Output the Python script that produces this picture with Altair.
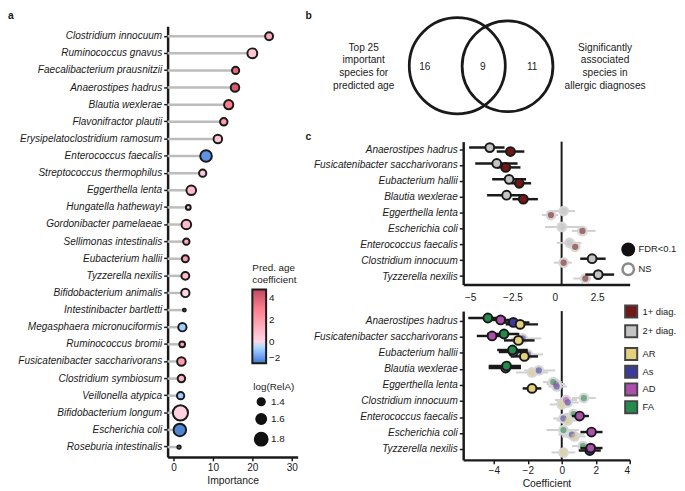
import altair as alt
import pandas as pd
import math

FONT = "Liberation Sans"
INK = "#1a1a1a"

# ---------------- panel a ----------------
a_species = [
    "Clostridium innocuum", "Ruminococcus gnavus", "Faecalibacterium prausnitzii",
    "Anaerostipes hadrus", "Blautia wexlerae", "Flavonifractor plautii",
    "Erysipelatoclostridium ramosum", "Enterococcus faecalis", "Streptococcus thermophilus",
    "Eggerthella lenta", "Hungatella hathewayi", "Gordonibacter pamelaeae",
    "Sellimonas intestinalis", "Eubacterium hallii", "Tyzzerella nexilis",
    "Bifidobacterium animalis", "Intestinibacter bartletti", "Megasphaera micronuciformis",
    "Ruminococcus bromii", "Fusicatenibacter saccharivorans", "Clostridium symbiosum",
    "Veillonella atypica", "Bifidobacterium longum", "Escherichia coli", "Roseburia intestinalis",
]
a_importance = [24.25, 20.0, 15.75, 15.6, 14.0, 12.75, 11.25, 8.25, 7.4, 4.5, 3.75, 3.25,
                3.25, 3.0, 3.0, 3.0, 2.75, 2.25, 2.2, 2.0, 2.0, 1.8, 1.75, 1.6, 1.4]
a_coef = [1.5, 0.6, 3.8, 4.2, 3.0, 2.0, 0.6, -1.6, 0.5, 1.0, 0.9, 1.0,
          1.4, 1.9, 0.9, 0.0, 0.5, -0.7, 1.8, 2.0, 1.1, -0.7, 0.15, -1.8, 1.3]
a_logrela = [1.45, 1.6, 1.4, 1.5, 1.55, 1.42, 1.5, 1.72, 1.4, 1.58, 1.2, 1.58,
             1.33, 1.38, 1.45, 1.48, 1.05, 1.48, 1.28, 1.5, 1.42, 1.4, 1.95, 1.78, 1.08]

# ---------------- panel b ----------------
venn_left_text = ["Top 25", "important", "species for", "predicted age"]
venn_right_text = ["Significantly", "associated", "species in", "allergic diagnoses"]
venn_counts = ["16", "9", "11"]

# ---------------- panel c ----------------
c_top_species = ["Anaerostipes hadrus", "Fusicatenibacter saccharivorans", "Eubacterium hallii",
                 "Blautia wexlerae", "Eggerthella lenta", "Escherichia coli",
                 "Enterococcus faecalis", "Clostridium innocuum", "Tyzzerella nexilis"]
diag1_coef = [-2.62, -2.9, -2.1, -1.86, -0.23, 1.63, 1.2, 0.52, 1.8]
diag1_lo = [-3.43, -3.43, -2.56, -2.5, -0.76, 1.0, 0.78, -0.06, 1.1]
diag1_hi = [-1.8, -2.03, -1.4, -1.0, 0.2, 2.4, 1.5, 1.0, 2.15]
diag1_sig = [1, 1, 1, 1, 0, 0, 0, 0, 0]
diag2_coef = [-3.84, -3.43, -2.7, -2.85, 0.52, 0.41, 0.87, 2.2, 2.56]
diag2_lo = [-5.06, -4.7, -3.7, -4.0, -0.2, -0.58, 0.12, 1.5, 1.8]
diag2_hi = [-2.97, -2.2, -1.7, -1.9, 1.2, 1.57, 1.57, 3.0, 3.5]
diag2_sig = [1, 1, 1, 1, 0, 0, 0, 1, 1]
top_ref_line = 0.4

c_bot_species = ["Anaerostipes hadrus", "Fusicatenibacter saccharivorans", "Eubacterium hallii",
                 "Blautia wexlerae", "Eggerthella lenta", "Clostridium innocuum",
                 "Enterococcus faecalis", "Escherichia coli", "Tyzzerella nexilis"]
ar_coef = [-2.45, -2.55, -2.2, -1.75, -1.75, 0.0, 0.35, 0.75, 0.1]
ar_lo = [-3.3, -3.4, -3.0, -2.7, -2.3, -0.7, -0.3, 0.0, -0.6]
ar_hi = [-1.4, -1.6, -1.4, -0.8, -1.2, 0.6, 1.0, 1.4, 0.8]
ar_sig = [1, 1, 1, 0, 1, 0, 0, 0, 0]
as_coef = [-2.85, -2.3, -2.0, -1.35, -0.3, 0.35, 0.1, 0.6, 1.65]
as_lo = [-3.8, -3.0, -2.8, -2.2, -0.8, -0.3, -0.5, -0.2, 1.0]
as_hi = [-1.9, -1.2, -1.1, -0.4, 0.3, 1.0, 0.7, 1.3, 2.3]
as_sig = [1, 0, 0, 0, 0, 0, 0, 0, 1]
ad_coef = [-3.6, -4.1, -2.85, -3.3, -0.35, 0.25, 1.05, 1.75, 1.7]
ad_lo = [-4.5, -5.0, -3.7, -4.3, -0.9, -0.4, 0.6, 1.1, 1.1]
ad_hi = [-2.7, -3.2, -2.0, -2.4, 0.2, 0.9, 1.6, 2.4, 2.4]
ad_sig = [1, 1, 1, 1, 0, 0, 1, 1, 1]
fa_coef = [-4.35, -3.4, -2.9, -3.25, -0.5, 1.3, 0.7, 0.1, 1.25]
fa_lo = [-5.5, -4.4, -3.8, -4.3, -1.1, 0.6, 0.2, -0.9, 0.6]
fa_hi = [-3.3, -2.5, -2.0, -2.4, 0.0, 2.0, 1.3, 1.0, 2.0]
fa_sig = [1, 1, 1, 1, 0, 0, 0, 0, 0]

diag_names = ["1+ diag.", "2+ diag."]
diag_colors = ["#721818", "#c4c4c4"]
dx_names = ["AR", "As", "AD", "FA"]
dx_colors = ["#e4d07e", "#3a3b9c", "#ab50ad", "#258a4d"]
sig_names = ["FDR<0.1", "NS"]

IND = dict(color="independent", fill="independent", stroke="independent", size="independent")

# ======================= panel a =======================
dfa = pd.DataFrame({"species": a_species, "importance": a_importance,
                    "coef": a_coef, "logrela": a_logrela})

ysc_a = alt.Scale(domain=a_species, paddingInner=0, paddingOuter=0.076)
xsc_a = alt.Scale(domain=[-1.5, 31.5], nice=False, zero=False)

yax_common = dict(title=None, labelFont=FONT, labelFontStyle="italic", labelFontSize=10.2,
                  labelColor=INK, domainColor=INK, domainWidth=2.5, tickColor=INK,
                  tickWidth=1.5, tickSize=4, labelPadding=2, grid=False)
yax_a = alt.Axis(**yax_common)
xax_a = alt.Axis(values=[0, 10, 20, 30], title="Importance", labelFont=FONT, labelFontSize=10.2,
                 labelColor=INK, domainColor=INK, domainWidth=2.5, tickColor=INK, tickWidth=1.5,
                 tickSize=4, labelPadding=2, titleFont=FONT, titleFontSize=10.5,
                 titleFontWeight="normal", titleColor=INK, titlePadding=3, grid=False)

stems = alt.Chart(dfa).mark_rule(color="#bcbcbc", strokeWidth=2.5).encode(
    y=alt.Y("species:N", scale=ysc_a, axis=yax_a),
    x=alt.X("importance:Q", scale=xsc_a, axis=xax_a),
    x2=alt.datum(-1.5),
)
dots_a = alt.Chart(dfa).mark_circle(stroke=INK, strokeWidth=2, opacity=1).encode(
    y=alt.Y("species:N", scale=ysc_a, axis=yax_a),
    x=alt.X("importance:Q", scale=xsc_a, axis=xax_a),
    color=alt.Color("coef:Q",
                    scale=alt.Scale(domain=[-2, 0, 4.8], range=["#3f78c5", "#ffffff", "#c34a5f"]),
                    legend=alt.Legend(title=["Pred. age", "coefficient"], orient="none",
                                      legendX=86, legendY=240, values=[-2, 0, 2, 4],
                                      gradientLength=75, gradientThickness=14,
                                      gradientStrokeColor=INK, gradientStrokeWidth=2,
                                      titleFont=FONT, titleFontSize=10, titleFontWeight="normal",
                                      titleColor=INK, titlePadding=5, labelFont=FONT,
                                      labelFontSize=10, labelColor=INK, labelOffset=3)),
    size=alt.Size("logrela:Q",
                  scale=alt.Scale(type="pow", exponent=4, domain=[1.0, 2.0], range=[5, 265]),
                  legend=alt.Legend(title="log(RelA)", orient="none", legendX=87, legendY=361,
                                    values=[1.4, 1.6, 1.8], symbolFillColor="#111111",
                                    symbolStrokeColor="#111111", symbolStrokeWidth=2,
                                    titleFont=FONT, titleFontSize=10, titleFontWeight="normal",
                                    titleColor=INK, labelFont=FONT, labelFontSize=10,
                                    labelColor=INK, labelOffset=2, rowPadding=0)),
)
letter_a = alt.Chart(pd.DataFrame({"t": ["a"]})).mark_text(
    font=FONT, fontSize=10.5, fontWeight="bold", align="left", baseline="top", color=INK
).encode(text="t:N", x=alt.value(-162), y=alt.value(-15))

panel_a = alt.layer(stems, dots_a, letter_a).properties(width=132, height=437)

# ======================= panel b (Venn, drawn in figure units) =======================
venn_circles = pd.DataFrame({"cx": [457, 508], "cy": [63, 63.5], "r": [55, 52]})
venn_circles["area"] = [math.pi * r * r for r in venn_circles["r"]]
venn_text_rows = []
for i, t in enumerate(venn_left_text):
    venn_text_rows.append({"tx": 362, "ty": 45 + 12.7 * i, "t": t})
for i, t in enumerate(venn_right_text):
    venn_text_rows.append({"tx": 607, "ty": 45 + 12.7 * i, "t": t})
for t, x in zip(venn_counts, [424, 483, 533]):
    venn_text_rows.append({"tx": x, "ty": 64, "t": t})
venn_text = pd.DataFrame(venn_text_rows)

vx = alt.Scale(domain=[463, 632], nice=False, zero=False)
vy = alt.Scale(domain=[23, 129], nice=False, zero=False, reverse=True)

venn_c = alt.Chart(venn_circles).mark_point(shape="circle", filled=False, strokeWidth=2.8,
                                            color=INK, opacity=1).encode(
    x=alt.X("cx:Q", scale=vx, axis=None), y=alt.Y("cy:Q", scale=vy, axis=None),
    size=alt.Size("area:Q", scale=None),
)
venn_t = alt.Chart(venn_text).mark_text(font=FONT, fontSize=10.3, color=INK).encode(
    x=alt.X("tx:Q", scale=vx, axis=None), y=alt.Y("ty:Q", scale=vy, axis=None), text="t:N",
)
letter_b = alt.Chart(pd.DataFrame({"t": ["b"]})).mark_text(
    font=FONT, fontSize=10.5, fontWeight="bold", align="left", baseline="top", color=INK
).encode(text="t:N", x=alt.value(-160), y=alt.value(-15))
panel_b = alt.layer(venn_c, venn_t, letter_b).properties(width=169, height=106)


# ======================= panel c =======================
def make_df(species, names, coefs, los, his, sigs):
    rows = []
    for n, c, lo, hi, sg in zip(names, coefs, los, his, sigs):
        for i, sp in enumerate(species):
            rows.append({"species": sp, "series": n, "coef": c[i], "lo": lo[i], "hi": hi[i],
                         "sig": "yes" if sg[i] else "no"})
    return pd.DataFrame(rows)


def forest(df, species, draw_order, colors, offsets, ref_x, xdom, xax, height, pad_outer,
           letter, extra):
    ysc = alt.Scale(domain=species, paddingInner=0, paddingOuter=pad_outer)
    yax = alt.Axis(minExtent=160, **yax_common)
    xsc = alt.Scale(domain=xdom, nice=False, zero=False)
    Y = alt.Y("species:N", scale=ysc, axis=yax)

    def X(f):
        return alt.X(f, scale=xsc, axis=xax)

    layers = [alt.Chart(pd.DataFrame({"v": [ref_x]})).mark_rule(color=INK, strokeWidth=2)
              .encode(x=X("v:Q"))]
    ns_rules, ns_halo, ns_dots, sg_rules, sg_dots = [], [], [], [], []
    for s in draw_order:
        col, off = colors[s], offsets[s]
        base = alt.Chart(df).transform_filter(alt.datum.series == s)
        ns = base.transform_filter(alt.datum.sig == "no")
        sg = base.transform_filter(alt.datum.sig == "yes")
        ns_rules.append(ns.mark_rule(color="#d0d0d0", strokeWidth=2, yOffset=off)
                        .encode(y=Y, x=X("lo:Q"), x2="hi:Q"))
        ns_halo.append(ns.mark_circle(color="#d6d6d6", size=118, opacity=1, yOffset=off)
                       .encode(y=Y, x=X("coef:Q")))
        ns_dots.append(ns.mark_circle(color=col, size=40, opacity=0.55, yOffset=off)
                       .encode(y=Y, x=X("coef:Q")))
        sg_rules.append(sg.mark_rule(color=INK, strokeWidth=2.5, yOffset=off)
                        .encode(y=Y, x=X("lo:Q"), x2="hi:Q"))
        sg_dots.append(sg.mark_circle(color=col, size=80, opacity=1, stroke=INK, strokeWidth=2,
                                      yOffset=off).encode(y=Y, x=X("coef:Q")))
    layers += ns_rules + ns_halo + ns_dots + sg_rules + sg_dots + extra
    if letter:
        layers.append(alt.Chart(pd.DataFrame({"t": [letter]})).mark_text(
            font=FONT, fontSize=10.5, fontWeight="bold", align="left", baseline="top", color=INK
        ).encode(text="t:N", x=alt.value(-160), y=alt.value(-9.5)))
    return alt.layer(*layers).properties(width=169, height=height)


leg_common = dict(title=None, labelFont=FONT, labelFontSize=9.5, labelColor=INK)

df_top = make_df(c_top_species, diag_names, [diag1_coef, diag2_coef], [diag1_lo, diag2_lo],
                 [diag1_hi, diag2_hi], [diag1_sig, diag2_sig])
sig_leg = dict(orient="none", legendX=160, legendY=102, symbolSize=135, symbolStrokeWidth=2.5,
               rowPadding=-3, labelOffset=3, **leg_common)
leg_sig = alt.Chart(pd.DataFrame({"k": sig_names})).transform_filter("false").mark_point(
    shape="circle", filled=True, strokeWidth=2.5, opacity=1
).encode(
    fill=alt.Fill("k:N", scale=alt.Scale(domain=sig_names, range=["#111111", "#ffffff"]),
                  legend=alt.Legend(**sig_leg)),
    stroke=alt.Stroke("k:N", scale=alt.Scale(domain=sig_names, range=["#111111", "#8a8a8a"]),
                      legend=alt.Legend(**sig_leg)),
)
xax_top = alt.Axis(values=[-5, -2.5, 0, 2.5], format=".1~f", title=None, labelFont=FONT,
                   labelFontSize=10.2, labelColor=INK, domainColor=INK, domainWidth=2.5,
                   ticks=False, tickSize=0, labelPadding=8, grid=False)
panel_ctop = forest(df_top, c_top_species, ["2+ diag.", "1+ diag."],
                    dict(zip(diag_names, diag_colors)), {"1+ diag.": 2, "2+ diag.": -2},
                    top_ref_line, [-5.41, 4.42], xax_top, 145, 0.0, "c", [leg_sig])

df_bot = make_df(c_bot_species, dx_names, [ar_coef, as_coef, ad_coef, fa_coef],
                 [ar_lo, as_lo, ad_lo, fa_lo], [ar_hi, as_hi, ad_hi, fa_hi],
                 [ar_sig, as_sig, ad_sig, fa_sig])
leg_diag = alt.Chart(pd.DataFrame({"d": diag_names})).transform_filter("false").mark_square(
    filled=True, opacity=1, stroke="#444444", strokeWidth=2
).encode(
    fill=alt.Fill("d:N", scale=alt.Scale(domain=diag_names, range=diag_colors),
                  legend=alt.Legend(orient="none", legendX=163, legendY=-7, symbolType="square",
                                    symbolSize=150, symbolStrokeColor="#444444",
                                    symbolStrokeWidth=2, rowPadding=-1, labelOffset=4,
                                    **leg_common)),
)
leg_dx = alt.Chart(pd.DataFrame({"d": dx_names})).transform_filter("false").mark_square(
    filled=True, opacity=1, stroke="#444444", strokeWidth=2
).encode(
    color=alt.Color("d:N", scale=alt.Scale(domain=dx_names, range=dx_colors),
                    legend=alt.Legend(orient="none", legendX=163, legendY=36, symbolType="square",
                                      symbolSize=150, symbolStrokeColor="#444444",
                                      symbolStrokeWidth=2, rowPadding=-4, labelOffset=4,
                                      **leg_common)),
)
xax_bot = alt.Axis(values=[-4, -2, 0, 2, 4], format="~g", title="Coefficient", labelFont=FONT,
                   labelFontSize=10.2, labelColor=INK, domainColor=INK, domainWidth=2.5,
                   tickColor=INK, tickWidth=1.5, tickSize=4, labelPadding=2, titleFont=FONT,
                   titleFontSize=10.5, titleFontWeight="normal", titleColor=INK, titlePadding=3,
                   grid=False)
panel_cbot = forest(df_bot, c_bot_species, ["As", "AD", "AR", "FA"],
                    dict(zip(dx_names, dx_colors)),
                    {"FA": -3.5, "AD": -1.5, "As": 1, "AR": 3},
                    0, [-5.8, 4.0], xax_bot, 151, 0.146, None, [leg_diag, leg_dx])

right = alt.vconcat(panel_b, panel_ctop, panel_cbot, spacing=1).resolve_scale(**IND)
chart = alt.hconcat(panel_a, right, spacing=8).resolve_scale(**IND).properties(
    padding={"left": 0, "top": 0, "right": 0, "bottom": 0}
).configure(font=FONT).configure_view(strokeWidth=0)

chart.save("out.html", embed_options={"renderer": "svg", "actions": False})
